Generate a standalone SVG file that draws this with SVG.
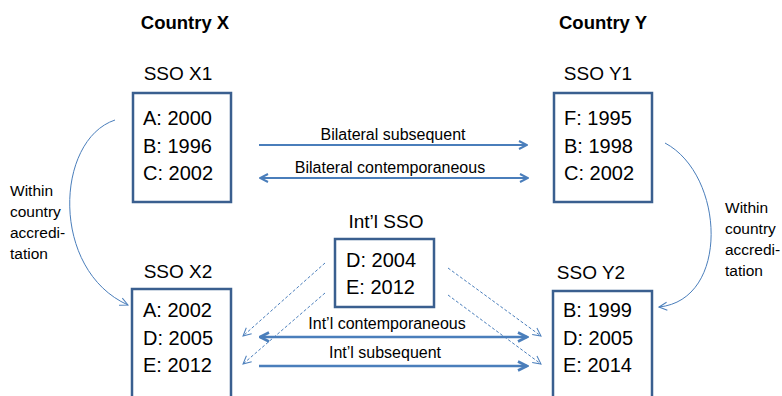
<svg xmlns="http://www.w3.org/2000/svg" width="782" height="396" viewBox="0 0 782 396">
  <style>
    text { font-family: "Liberation Sans", Arial, sans-serif; fill: #000; }
    .country { font-size: 18.5px; font-weight: bold; text-anchor: middle; }
    .head { font-size: 19px; text-anchor: middle; }
    .row { font-size: 20px; }
    .lbl { font-size: 16px; text-anchor: middle; }
    .side { font-size: 15.5px; }
    .box { fill: #fff; stroke: #3a5f8f; stroke-width: 2.5; }
    .main { fill: none; stroke: #4a7ebb; stroke-width: 2; }
    .intl { fill: none; stroke: #4a7ebb; stroke-width: 2.6; }
    .dash { fill: none; stroke: #4a7ebb; stroke-width: 1; stroke-dasharray: 3 2; }
    .curve { fill: none; stroke: #4a7ebb; stroke-width: 1; }
  </style>
  <defs>
    <marker id="head" markerUnits="userSpaceOnUse" viewBox="0 0 10 10" refX="9" refY="5" markerWidth="10" markerHeight="10" orient="auto-start-reverse">
      <path d="M1,1 L9,5 L1,9" fill="none" stroke="#4a7ebb" stroke-width="2"/>
    </marker>
    <marker id="headBold" markerUnits="userSpaceOnUse" viewBox="0 0 12 12" refX="10.5" refY="6" markerWidth="12" markerHeight="12" orient="auto-start-reverse">
      <path d="M1.5,1.5 L10.5,6 L1.5,10.5" fill="none" stroke="#4a7ebb" stroke-width="2.6"/>
    </marker>
    <marker id="headThin" markerUnits="userSpaceOnUse" viewBox="0 0 10 10" refX="9" refY="5" markerWidth="10" markerHeight="10" orient="auto">
      <path d="M1,1 L9,5 L1,9" fill="none" stroke="#4a7ebb" stroke-width="1"/>
    </marker>
  </defs>

  <!-- country headings -->
  <text class="country" x="185" y="29">Country X</text>
  <text class="country" x="603" y="29">Country Y</text>

  <!-- SSO X1 -->
  <g id="sso-x1">
    <text class="head" x="178" y="80">SSO X1</text>
    <rect class="box" x="133" y="93" width="98" height="109"/>
    <text class="row" x="143" y="125">A: 2000</text>
    <text class="row" x="143" y="152.5">B: 1996</text>
    <text class="row" x="143" y="180">C: 2002</text>
  </g>

  <!-- SSO Y1 -->
  <g id="sso-y1">
    <text class="head" x="598" y="80">SSO Y1</text>
    <rect class="box" x="554" y="93" width="98" height="109"/>
    <text class="row" x="564" y="125">F: 1995</text>
    <text class="row" x="564" y="152.5">B: 1998</text>
    <text class="row" x="564" y="180">C: 2002</text>
  </g>

  <!-- Int'l SSO -->
  <g id="sso-intl">
    <text class="head" x="386" y="228">Int’l SSO</text>
    <rect class="box" x="335" y="239" width="99" height="68"/>
    <text class="row" x="346" y="267">D: 2004</text>
    <text class="row" x="346" y="294">E: 2012</text>
  </g>

  <!-- SSO X2 -->
  <g id="sso-x2">
    <text class="head" x="178" y="278">SSO X2</text>
    <rect class="box" x="132" y="289" width="99" height="120"/>
    <text class="row" x="143" y="317">A: 2002</text>
    <text class="row" x="143" y="344.5">D: 2005</text>
    <text class="row" x="143" y="372">E: 2012</text>
  </g>

  <!-- SSO Y2 -->
  <g id="sso-y2">
    <text class="head" x="591" y="279">SSO Y2</text>
    <rect class="box" x="553" y="291" width="99" height="120"/>
    <text class="row" x="563" y="317">B: 1999</text>
    <text class="row" x="563" y="344.5">D: 2005</text>
    <text class="row" x="563" y="372">E: 2014</text>
  </g>

  <!-- side notes -->
  <g id="note-x">
    <text class="side" x="10" y="196">Within</text>
    <text class="side" x="10" y="217">country</text>
    <text class="side" x="10" y="238">accredi-</text>
    <text class="side" x="10" y="259">tation</text>
  </g>
  <g id="note-y">
    <text class="side" x="725" y="213">Within</text>
    <text class="side" x="725" y="234">country</text>
    <text class="side" x="725" y="255">accredi-</text>
    <text class="side" x="725" y="276">tation</text>
  </g>

  <!-- connectors -->
  <g id="connectors">
    <line class="main" x1="259" y1="145" x2="527" y2="145" marker-end="url(#head)"/>
    <text class="lbl" x="393" y="140">Bilateral subsequent</text>
    <line class="main" x1="260" y1="178" x2="528" y2="178" marker-start="url(#head)" marker-end="url(#head)"/>
    <text class="lbl" x="390" y="173">Bilateral contemporaneous</text>

    <line class="intl" x1="260" y1="337" x2="527" y2="337" marker-start="url(#headBold)" marker-end="url(#headBold)"/>
    <text class="lbl" x="387" y="329">Int’l contemporaneous</text>
    <line class="intl" x1="259" y1="366" x2="527" y2="366" marker-end="url(#headBold)"/>
    <text class="lbl" x="385" y="358">Int’l subsequent</text>

    <line class="dash" x1="325" y1="263" x2="243" y2="336" marker-end="url(#headThin)"/>
    <line class="dash" x1="325" y1="293" x2="243" y2="364" marker-end="url(#headThin)"/>
    <line class="dash" x1="448" y1="268" x2="541" y2="336" marker-end="url(#headThin)"/>
    <line class="dash" x1="448" y1="295" x2="541" y2="364" marker-end="url(#headThin)"/>

    <path class="curve" d="M115,120 C55,140 50,270 128,305" marker-end="url(#headThin)"/>
    <path class="curve" d="M665,143 C725,175 730,300 659,307" marker-end="url(#headThin)"/>
  </g>
</svg>
